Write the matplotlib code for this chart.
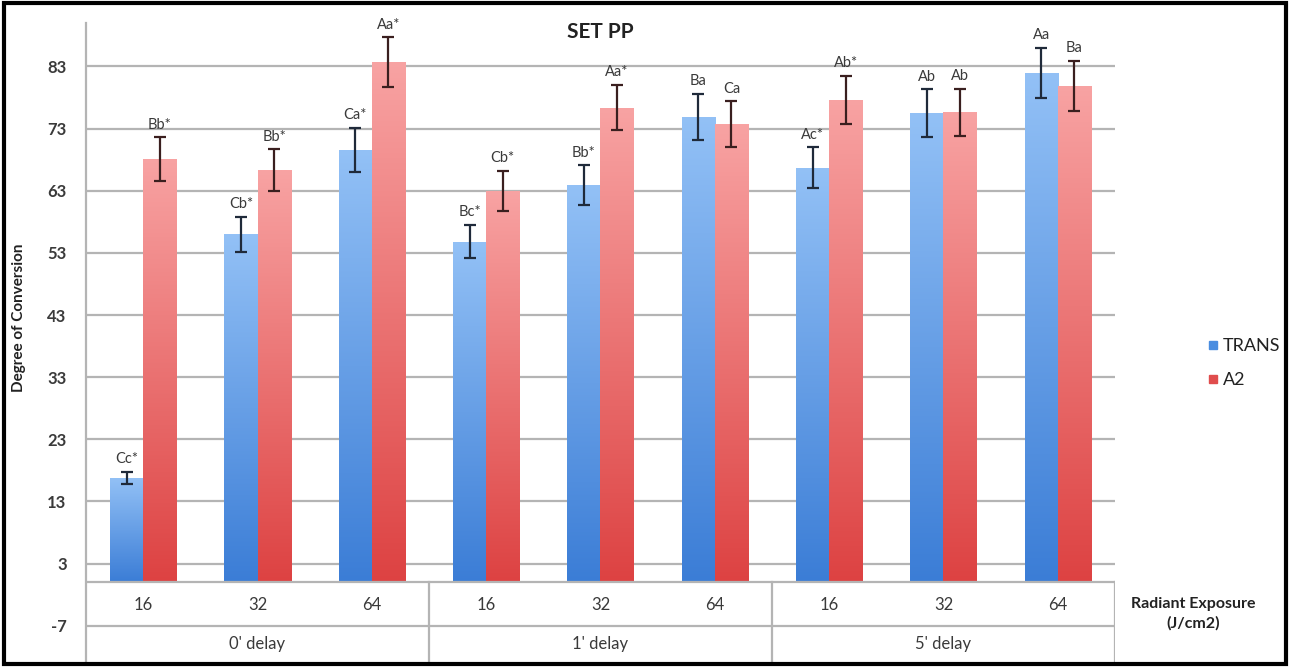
import numpy as np
import matplotlib
matplotlib.use("Agg")
import matplotlib.pyplot as plt
from matplotlib.colors import LinearSegmentedColormap
from matplotlib.patches import Rectangle
from matplotlib.lines import Line2D

plt.rcParams['font.family'] = ['Lato', 'DejaVu Sans']

# data
delays = ["0' delay", "1' delay", "5' delay"]
exposures = ["16", "32", "64"]
trans = [16.8, 56.0, 69.6, 54.8, 63.9, 74.9, 66.7, 75.5, 82.0]
trans_err = [1.0, 2.8, 3.5, 2.7, 3.2, 3.7, 3.3, 3.8, 4.0]
a2 = [68.1, 66.3, 83.7, 63.0, 76.4, 73.7, 77.6, 75.6, 79.9]
a2_err = [3.5, 3.4, 4.0, 3.2, 3.7, 3.7, 3.9, 3.8, 4.0]
trans_lbl = ["Cc*", "Cb*", "Ca*", "Bc*", "Bb*", "Ba", "Ac*", "Ab", "Aa"]
a2_lbl = ["Bb*", "Bb*", "Aa*", "Cb*", "Aa*", "Ca", "Ab*", "Ab", "Ba"]
yticks = [-7, 3, 13, 23, 33, 43, 53, 63, 73, 83]

n = len(trans)
x = np.arange(n)
w = 0.29
grid_c = '#b4b4b4'
txt_c = '#3a3a3a'

fig = plt.figure(figsize=(12.9, 6.67), dpi=100)
ax = fig.add_axes([86/1290, 4/667, (1115-86)/1290, (663-23)/667])
ymin, ymax = -13.0, 90.0

b1 = ax.bar(x - w/2, trans, w, facecolor='none', edgecolor='none', zorder=2)
b2 = ax.bar(x + w/2, a2, w, facecolor='none', edgecolor='none', zorder=2)


def grad_fill(bars, bot, top):
    cmap = LinearSegmentedColormap.from_list('g', [bot, top])
    grad = np.linspace(0, 1, 256).reshape(-1, 1)
    for b in bars:
        x0, y0 = b.get_x(), b.get_y()
        im = ax.imshow(grad, extent=[x0, x0 + b.get_width(), y0, y0 + b.get_height()],
                       origin='lower', cmap=cmap, aspect='auto', zorder=2)
        im.set_clip_path(b)


grad_fill(b1, '#3b7dd6', '#93c1f6')
grad_fill(b2, '#dd4242', '#f8a3a3')

ax.errorbar(x - w/2, trans, yerr=trans_err, fmt='none', ecolor='#1f2a3a',
            elinewidth=1.6, capsize=4, capthick=1.6, zorder=4)
ax.errorbar(x + w/2, a2, yerr=a2_err, fmt='none', ecolor='#3a1f1f',
            elinewidth=1.6, capsize=4, capthick=1.6, zorder=4)

for i in range(n):
    ax.annotate(trans_lbl[i], (x[i] - w/2, trans[i] + trans_err[i]), xytext=(0, 4),
                textcoords='offset points', ha='center', va='bottom', fontsize=10.5, color=txt_c)
    ax.annotate(a2_lbl[i], (x[i] + w/2, a2[i] + a2_err[i]), xytext=(0, 4),
                textcoords='offset points', ha='center', va='bottom', fontsize=10.5, color=txt_c)

# grid lines above zero
for t in yticks:
    if t > 0:
        ax.plot([-0.5, n - 0.5], [t, t], color=grid_c, lw=1.6, zorder=1)

# category table below zero
ax.plot([-0.5, n - 0.5], [0, 0], color=grid_c, lw=1.6, zorder=3)
ax.plot([-0.5, n - 0.5], [-7, -7], color=grid_c, lw=1.6, zorder=3)
for xv in [2.5, 5.5, n - 0.5]:
    ax.plot([xv, xv], [0, ymin + 0.4], color=grid_c, lw=1.6, zorder=3)
for i in range(n):
    ax.text(x[i], -3.6, exposures[i % 3], ha='center', va='center', fontsize=12, color=txt_c)
for g, name in enumerate(delays):
    ax.text(g * 3 + 1, -10.0, name, ha='center', va='center', fontsize=12, color=txt_c)

ax.set_xlim(-0.5, n - 0.5)
ax.set_ylim(ymin, ymax)
ax.set_yticks(yticks)
ax.set_yticklabels([str(t) for t in yticks], fontsize=12, color=txt_c, fontweight='bold')
ax.tick_params(axis='y', length=0, pad=14)
ax.set_xticks([])
for s in ['top', 'right', 'bottom']:
    ax.spines[s].set_visible(False)
ax.spines['left'].set_color(grid_c)
ax.spines['left'].set_linewidth(1.6)

fig.text(600/1290, 1 - 32/667, 'SET PP', ha='center', va='center',
         fontsize=15, fontweight='bold', color='#222222')
fig.text(19/1290, 1 - 318/667, 'Degree of Conversion', rotation=90, ha='center',
         va='center', fontsize=11, fontweight='bold', color='#222222')
fig.text(1193/1290, 1 - 614/667, 'Radiant Exposure\n(J/cm2)', ha='center', va='center',
         fontsize=11.5, fontweight='bold', color='#222222', linespacing=1.4)

handles = [Line2D([], [], marker='s', ls='none', color='#4a8de0', markersize=6),
           Line2D([], [], marker='s', ls='none', color='#e04d4d', markersize=6)]
fig.legend(handles, ['TRANS', 'A2'], loc='center left', bbox_to_anchor=(1190/1290, 1 - 363/667),
           frameon=False, fontsize=13, handletextpad=0.1, labelspacing=1.0,
           handlelength=0.8, labelcolor='#222222')

fig.add_artist(Rectangle((0.003, 0.004), 0.994, 0.991, transform=fig.transFigure,
                         fill=False, edgecolor='black', lw=3))

fig.savefig('out.png', dpi=100)
